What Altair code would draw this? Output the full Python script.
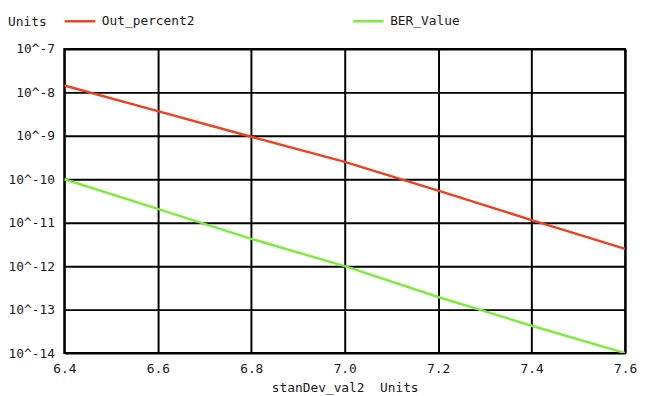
import altair as alt
import pandas as pd

# stanDev_val2 positions
x_vals = [6.4, 6.6, 6.8, 7.0, 7.2, 7.4, 7.6]
# log10 of the values
out_percent2_exp = [-7.84, -8.43, -9.02, -9.60, -10.26, -10.94, -11.60]
ber_value_exp = [-10.00, -10.68, -11.37, -12.00, -12.71, -13.37, -14.00]

series_names = ["Out_percent2", "BER_Value"]
series_colors = ["#f0401e", "#7ced3c"]

x_ticks = [6.4, 6.6, 6.8, 7.0, 7.2, 7.4, 7.6]
y_ticks = [1e-7, 1e-8, 1e-9, 1e-10, 1e-11, 1e-12, 1e-13, 1e-14]

rows = []
for x, a, b in zip(x_vals, out_percent2_exp, ber_value_exp):
    rows.append({"x": x, "series": series_names[0], "value": 10 ** a})
    rows.append({"x": x, "series": series_names[1], "value": 10 ** b})
df = pd.DataFrame(rows)

FONT = "DejaVu Sans Mono"
TXT = "#1a1a1a"

chart = alt.Chart(df).mark_line(strokeWidth=2.5, clip=True).encode(
    x=alt.X(
        "x:Q",
        scale=alt.Scale(domain=[6.4, 7.6], nice=False, zero=False),
        axis=alt.Axis(
            values=x_ticks, format=".1f", tickSize=0, labelPadding=10,
            grid=True, gridColor="black", gridWidth=2, gridOpacity=1,
            domain=False, labelFont=FONT, labelFontSize=13, labelColor=TXT,
            title="stanDev_val2\u00a0\u00a0Units", titleFont=FONT, titleFontSize=13,
            titleFontWeight="normal", titleColor=TXT, titlePadding=6,
            labelFlush=False,
        ),
    ),
    y=alt.Y(
        "value:Q",
        scale=alt.Scale(type="log", domain=[1e-14, 1e-7], nice=False),
        axis=alt.Axis(
            values=y_ticks,
            labelExpr="'10^' + round(log(datum.value) / LN10)",
            tickSize=0, labelPadding=10, grid=True, gridColor="black",
            gridWidth=2, gridOpacity=1, domain=False, title=None,
            labelFont=FONT, labelFontSize=13, labelColor=TXT,
        ),
    ),
    color=alt.Color(
        "series:N",
        scale=alt.Scale(domain=series_names, range=series_colors),
        sort=series_names,
        legend=alt.Legend(
            orient="none", legendX=-57, legendY=-45, direction="horizontal",
            title="Units", titleOrient="left", titlePadding=16,
            titleAnchor="middle", titleBaseline="top",
            titleFont=FONT, titleFontSize=13, titleFontWeight="normal", titleColor=TXT,
            symbolType="stroke", symbolSize=961, symbolStrokeWidth=2.5,
            labelOffset=5, labelFont=FONT, labelFontSize=13, labelColor=TXT,
            columnPadding=155,
        ),
    ),
).properties(
    width=568, height=308,
    autosize=alt.AutoSizeParams(type="none"),
    padding={"left": 57, "top": 39, "right": 13, "bottom": 41},
    background="white",
).configure_view(stroke="black", strokeWidth=2)

chart.save("out.html", embed_options={"renderer": "svg", "actions": False})
